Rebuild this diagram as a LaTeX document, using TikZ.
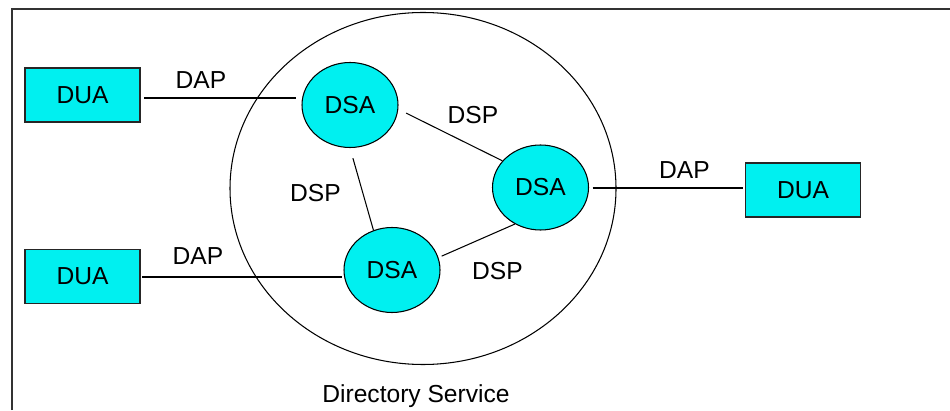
\documentclass[tikz,border=0pt]{standalone}
\usepackage{fontspec}
\setmainfont{Liberation Sans}
\usetikzlibrary{shapes.geometric}
\definecolor{dircyan}{RGB}{0,240,240}
\begin{document}
\begin{tikzpicture}[font=\fontsize{14}{17}\selectfont,
    dua/.style={draw=black!85,fill=dircyan,line width=0.7pt,minimum width=2.3cm,minimum height=1.08cm,inner sep=0pt},
    dsa/.style={ellipse,draw=black,fill=dircyan,line width=0.6pt,minimum width=1.92cm,minimum height=1.7cm,inner sep=0pt},
    link/.style={line width=0.6pt}]
    \useasboundingbox (0,0) rectangle (19,8.2);
    \draw [line width=1.1pt,black!80] (0.24,0) |- (19,8.02);
    \draw [line width=0.6pt] (8.46,4.43) ellipse (3.86 and 3.52);
    \node at (8.32,0.14) [anchor=base] {Directory Service};
    \node (dua1) [dua] at (1.65,6.3) {DUA};
    \node (dua2) [dua] at (1.65,2.67) {DUA};
    \node (dua3) [dua] at (16.06,4.4) {DUA};
    \node (dsa1) [dsa] at (7.0,6.1) {DSA};
    \node (dsa2) [dsa] at (10.81,4.45) {DSA};
    \node (dsa3) [dsa] at (7.84,2.8) {DSA};
    \draw [link,shorten <=2pt,shorten >=3pt] (dua1.east |- 0,6.24) -- (dsa1.west |- 0,6.24);
    \draw [link,shorten <=1pt,shorten >=1pt] (dua2.east |- 0,2.66) -- (dsa3.west |- 0,2.66);
    \draw [link,shorten <=2pt,shorten >=1pt] (dsa2.east |- 0,4.44) -- (dua3.west |- 0,4.44);
    \draw [link,shorten <=5pt] (dsa1.-5) -- (dsa2.145);
    \draw [link,shorten <=6pt] (dsa1.-90) -- (dsa3.115);
    \draw [link,shorten <=2pt] (dsa3.15) -- (dsa2.-125);
    \node at (4.02,6.6) {DAP};
    \node at (3.96,3.07) {DAP};
    \node at (13.69,4.79) {DAP};
    \node at (9.46,5.89) {DSP};
    \node at (6.31,4.33) {DSP};
    \node at (9.95,2.77) {DSP};
\end{tikzpicture}
\end{document}
